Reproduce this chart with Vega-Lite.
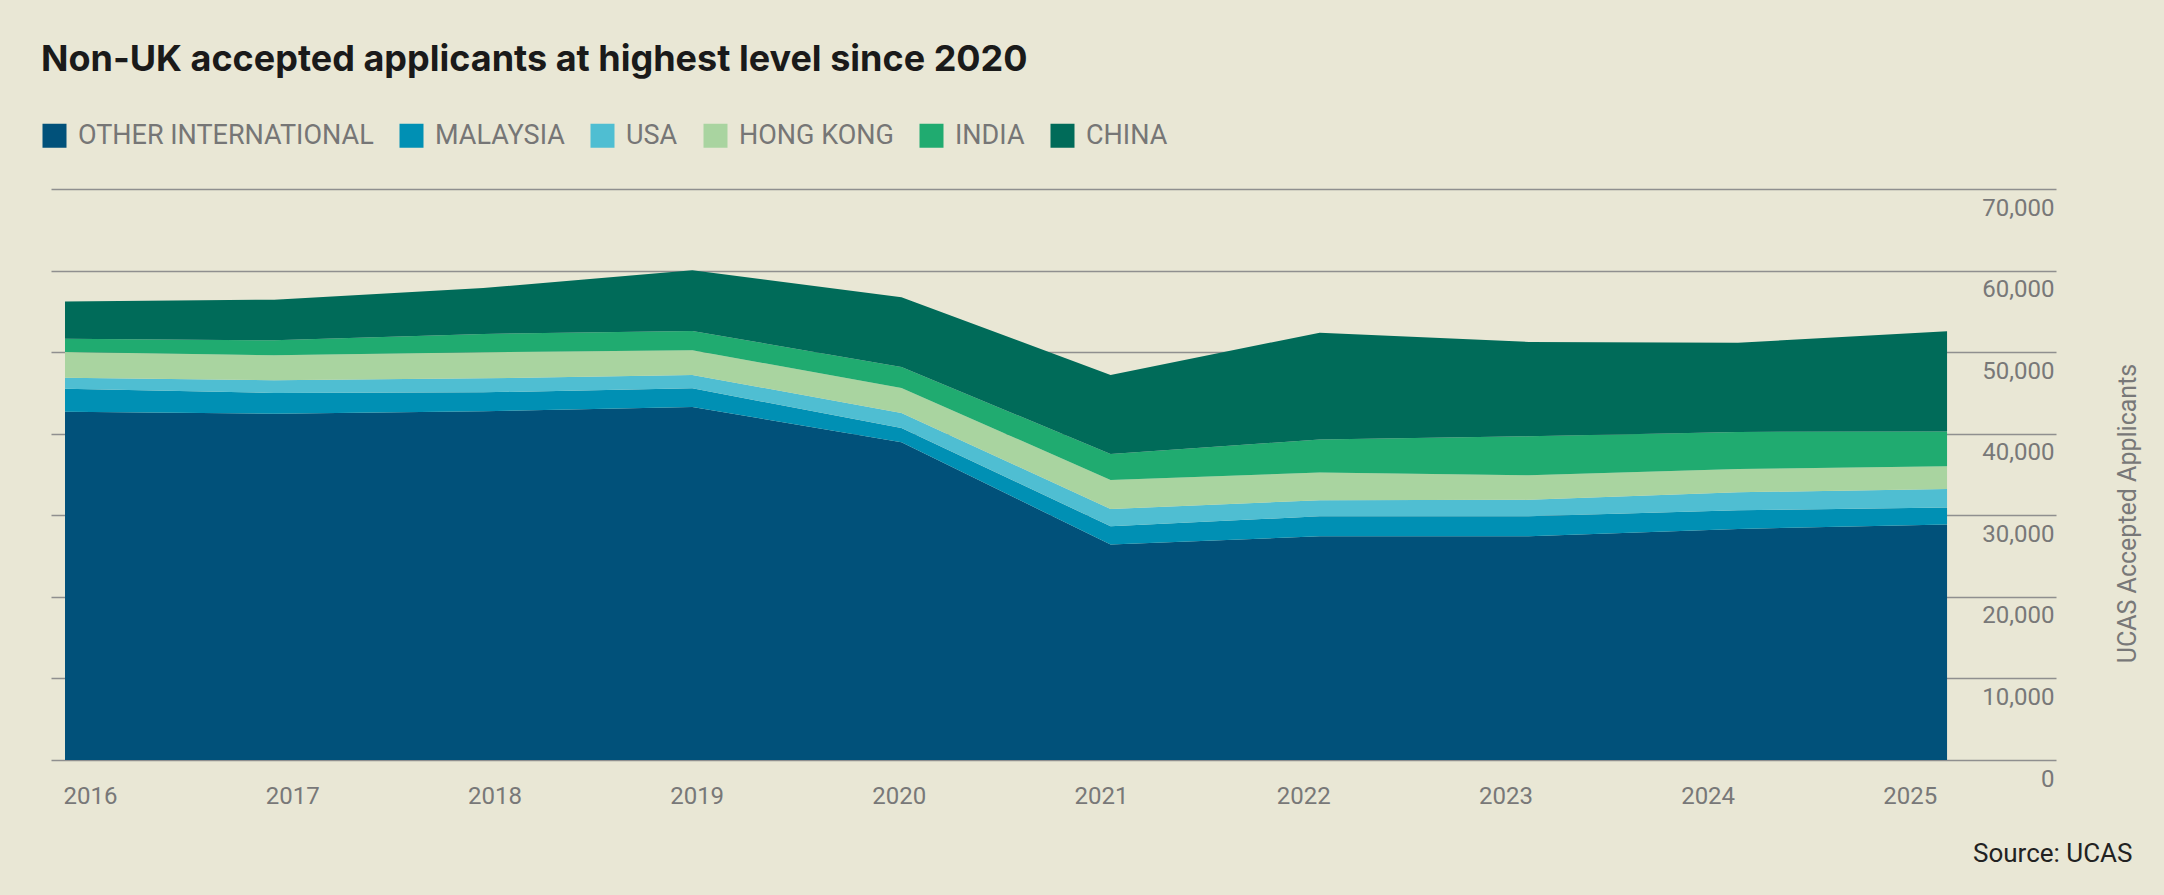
{
  "$schema": "https://vega.github.io/schema/vega-lite/v6.json",
  "autosize": {"type": "none"},
  "width": 2005,
  "height": 571,
  "padding": {"left": 51, "top": 189, "right": 108, "bottom": 135},
  "background": "#e9e7d5",
  "title": {
    "text": "Non-UK accepted applicants at highest level since 2020",
    "anchor": "start",
    "frame": "group",
    "dx": -10,
    "offset": 15,
    "baseline": "alphabetic",
    "font": "Inter",
    "fontSize": 36,
    "fontWeight": "bold",
    "color": "#1a1a1a"
  },
  "config": {
    "view": {"stroke": null},
    "font": "Roboto"
  },
  "data": {
    "values": [
      {"year": 2016, "region": "OTHER INTERNATIONAL", "applicants": 42700},
      {"year": 2016, "region": "MALAYSIA", "applicants": 2820},
      {"year": 2016, "region": "USA", "applicants": 1350},
      {"year": 2016, "region": "HONG KONG", "applicants": 3150},
      {"year": 2016, "region": "INDIA", "applicants": 1630},
      {"year": 2016, "region": "CHINA", "applicants": 4570},
      {"year": 2017, "region": "OTHER INTERNATIONAL", "applicants": 42460},
      {"year": 2017, "region": "MALAYSIA", "applicants": 2540},
      {"year": 2017, "region": "USA", "applicants": 1550},
      {"year": 2017, "region": "HONG KONG", "applicants": 3060},
      {"year": 2017, "region": "INDIA", "applicants": 1840},
      {"year": 2017, "region": "CHINA", "applicants": 4980},
      {"year": 2018, "region": "OTHER INTERNATIONAL", "applicants": 42750},
      {"year": 2018, "region": "MALAYSIA", "applicants": 2320},
      {"year": 2018, "region": "USA", "applicants": 1720},
      {"year": 2018, "region": "HONG KONG", "applicants": 3190},
      {"year": 2018, "region": "INDIA", "applicants": 2250},
      {"year": 2018, "region": "CHINA", "applicants": 5635},
      {"year": 2019, "region": "OTHER INTERNATIONAL", "applicants": 43280},
      {"year": 2019, "region": "MALAYSIA", "applicants": 2280},
      {"year": 2019, "region": "USA", "applicants": 1640},
      {"year": 2019, "region": "HONG KONG", "applicants": 3020},
      {"year": 2019, "region": "INDIA", "applicants": 2380},
      {"year": 2019, "region": "CHINA", "applicants": 7425},
      {"year": 2020, "region": "OTHER INTERNATIONAL", "applicants": 38950},
      {"year": 2020, "region": "MALAYSIA", "applicants": 1760},
      {"year": 2020, "region": "USA", "applicants": 1840},
      {"year": 2020, "region": "HONG KONG", "applicants": 3060},
      {"year": 2020, "region": "INDIA", "applicants": 2580},
      {"year": 2020, "region": "CHINA", "applicants": 8530},
      {"year": 2021, "region": "OTHER INTERNATIONAL", "applicants": 26410},
      {"year": 2021, "region": "MALAYSIA", "applicants": 2240},
      {"year": 2021, "region": "USA", "applicants": 2130},
      {"year": 2021, "region": "HONG KONG", "applicants": 3560},
      {"year": 2021, "region": "INDIA", "applicants": 3185},
      {"year": 2021, "region": "CHINA", "applicants": 9675},
      {"year": 2022, "region": "OTHER INTERNATIONAL", "applicants": 27430},
      {"year": 2022, "region": "MALAYSIA", "applicants": 2450},
      {"year": 2022, "region": "USA", "applicants": 1960},
      {"year": 2022, "region": "HONG KONG", "applicants": 3393},
      {"year": 2022, "region": "INDIA", "applicants": 4044},
      {"year": 2022, "region": "CHINA", "applicants": 13113},
      {"year": 2023, "region": "OTHER INTERNATIONAL", "applicants": 27430},
      {"year": 2023, "region": "MALAYSIA", "applicants": 2450},
      {"year": 2023, "region": "USA", "applicants": 2010},
      {"year": 2023, "region": "HONG KONG", "applicants": 3010},
      {"year": 2023, "region": "INDIA", "applicants": 4780},
      {"year": 2023, "region": "CHINA", "applicants": 11570},
      {"year": 2024, "region": "OTHER INTERNATIONAL", "applicants": 28330},
      {"year": 2024, "region": "MALAYSIA", "applicants": 2280},
      {"year": 2024, "region": "USA", "applicants": 2210},
      {"year": 2024, "region": "HONG KONG", "applicants": 2860},
      {"year": 2024, "region": "INDIA", "applicants": 4540},
      {"year": 2024, "region": "CHINA", "applicants": 10940},
      {"year": 2025, "region": "OTHER INTERNATIONAL", "applicants": 28860},
      {"year": 2025, "region": "MALAYSIA", "applicants": 2080},
      {"year": 2025, "region": "USA", "applicants": 2290},
      {"year": 2025, "region": "HONG KONG", "applicants": 2780},
      {"year": 2025, "region": "INDIA", "applicants": 4250},
      {"year": 2025, "region": "CHINA", "applicants": 12290}
    ]
  },
  "layer": [
    {
      "transform": [
        {"calculate": "indexof(['OTHER INTERNATIONAL', 'MALAYSIA', 'USA', 'HONG KONG', 'INDIA', 'CHINA'], datum.region)", "as": "stack_rank"}
      ],
      "mark": {"type": "area", "interpolate": "linear"},
      "encoding": {
        "x": {
          "field": "year",
          "type": "quantitative",
          "scale": {"domain": [2015.933, 2025.521], "nice": false, "zero": false},
          "axis": null
        },
        "y": {
          "field": "applicants",
          "type": "quantitative",
          "stack": "zero",
          "scale": {"domain": [0, 70000], "nice": false},
          "axis": {
            "orient": "right",
            "values": [0, 10000, 20000, 30000, 40000, 50000, 60000, 70000],
            "format": ",.0f",
            "grid": true,
            "gridColor": "#8f8f8f",
            "gridWidth": 1.5,
            "domain": false,
            "ticks": false,
            "labelAlign": "right",
            "labelBaseline": "middle",
            "labelPadding": -2,
            "labelOffset": 19,
            "labelFont": "Roboto",
            "labelFontSize": 24,
            "labelColor": "#787878",
            "title": "UCAS Accepted Applicants",
            "titleAngle": 270,
            "titleAnchor": null,
            "titleAlign": "center",
            "titleBaseline": "middle",
            "titleX": 71,
            "titleY": 324,
            "titleFont": "Roboto",
            "titleFontSize": 25,
            "titleFontWeight": "normal",
            "titleColor": "#787878"
          }
        },
        "color": {
          "field": "region",
          "type": "nominal",
          "sort": ["OTHER INTERNATIONAL", "MALAYSIA", "USA", "HONG KONG", "INDIA", "CHINA"],
          "scale": {
            "domain": ["OTHER INTERNATIONAL", "MALAYSIA", "USA", "HONG KONG", "INDIA", "CHINA"],
            "range": ["#01517a", "#0090b4", "#4fbed2", "#a9d4a0", "#20ab70", "#006b59"]
          },
          "legend": {
            "orient": "none",
            "direction": "horizontal",
            "legendX": -10,
            "legendY": -67,
            "title": null,
            "padding": 0,
            "symbolType": "square",
            "symbolSize": 576,
            "symbolStrokeWidth": 0,
            "symbolOpacity": 1,
            "labelFont": "Roboto",
            "labelFontSize": 27,
            "labelColor": "#767676",
            "labelOffset": 10,
            "columnPadding": 24,
            "labelLimit": 0
          }
        },
        "order": {"field": "stack_rank", "type": "quantitative", "sort": "ascending"}
      }
    },
    {
      "mark": {"type": "rule", "opacity": 0},
      "encoding": {
        "x": {
          "field": "year",
          "type": "quantitative",
          "scale": {"domain": [2015.807, 2025.723], "nice": false, "zero": false},
          "axis": {
            "values": [2016, 2017, 2018, 2019, 2020, 2021, 2022, 2023, 2024, 2025],
            "format": "d",
            "grid": false,
            "domain": false,
            "ticks": false,
            "labelFlush": false,
            "labelOverlap": false,
            "labelAlign": "center",
            "labelBaseline": "middle",
            "labelPadding": 36,
            "labelFont": "Roboto",
            "labelFontSize": 24,
            "labelColor": "#787878",
            "title": "Source: UCAS",
            "titleAnchor": null,
            "titleAlign": "right",
            "titleBaseline": "middle",
            "titleX": 2081,
            "titleY": 93,
            "titleFont": "Roboto",
            "titleFontSize": 26,
            "titleFontWeight": "normal",
            "titleColor": "#222222"
          }
        }
      }
    }
  ],
  "resolve": {"scale": {"x": "independent"}}
}
